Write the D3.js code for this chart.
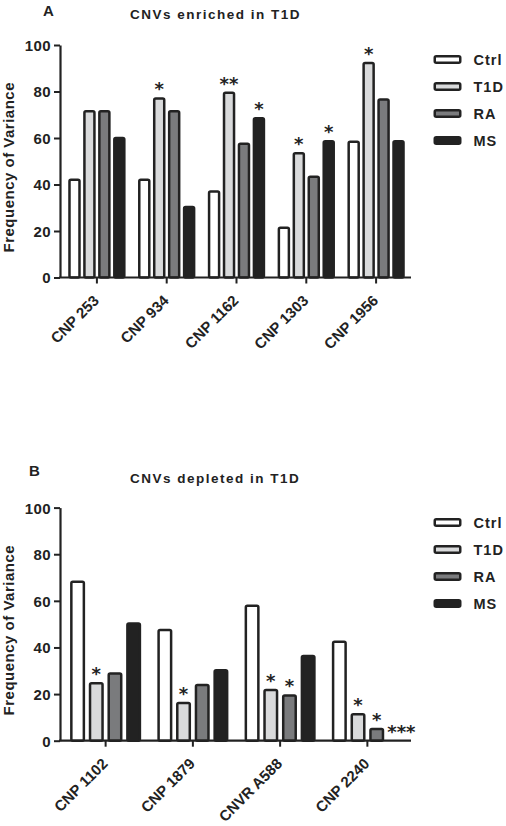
<!DOCTYPE html>
<html>
<head>
<meta charset="utf-8">
<script src="https://cdn.jsdelivr.net/npm/d3@7"></script>
<style>
  html, body { margin: 0; padding: 0; background: #fff; }
  svg { display: block; }
  text { font-family: "Liberation Sans", Arial, sans-serif; fill: #222; }
</style>
</head>
<body>
<svg id="chart" width="506" height="826"></svg>
<script>
// ---------- data ----------
const series = ["Ctrl", "T1D", "RA", "MS"];
const yTicks = [0, 20, 40, 60, 80, 100];

const categoriesA = ["CNP 253", "CNP 934", "CNP 1162", "CNP 1303", "CNP 1956"];
const ctrlA = [42, 42, 37, 21.4, 58.4];
const t1dA  = [71.5, 77, 79.5, 53.4, 92.3];
const raA   = [71.5, 71.5, 57.5, 43.3, 76.6];
const msA   = [60, 30.3, 68.5, 58.6, 58.6];
const sigA  = [["", "", "", ""], ["", "*", "", ""], ["", "**", "", "*"], ["", "*", "", "*"], ["", "*", "", ""]];

const categoriesB = ["CNP 1102", "CNP 1879", "CNVR A588", "CNP 2240"];
const ctrlB = [68.2, 47.5, 57.9, 42.4];
const t1dB  = [24.6, 16.2, 21.7, 11.3];
const raB   = [28.8, 23.9, 19.4, 5.0];
const msB   = [50.3, 30.2, 36.3, 0];
const sigB  = [["", "*", "", ""], ["", "*", "", ""], ["", "*", "*", ""], ["", "*", "*", "***"]];

const titleA = "CNVs enriched in T1D";
const titleB = "CNVs depleted in T1D";
const yLabel = "Frequency of Variance";

// ---------- style ----------
const fills = {Ctrl: "#ffffff", T1D: "#d9dadb", RA: "#7a7b7d", MS: "#222222"};
const ink = "#222222";

const svg = d3.select("#chart");

function panel(cfg) {
  const g = svg.append("g");
  const vals = [cfg.ctrl, cfg.t1d, cfg.ra, cfg.ms];
  const rows = cfg.categories.map((c, i) => ({
    cat: c,
    bars: series.map((s, j) => ({s, v: vals[j][i], sig: cfg.sig[i][j]}))
  }));

  const y = d3.scaleLinear().domain([0, 100]).range([cfg.y0, cfg.y1]);
  const x0 = d3.scaleBand().domain(cfg.categories).range([62, 411])
    .paddingInner(0.18).paddingOuter(0.09);
  const x1 = d3.scaleBand().domain(series).range([0, x0.bandwidth()])
    .paddingInner(0.33).paddingOuter(0.08);

  // bars
  const grp = g.selectAll("g.grp").data(rows).join("g")
    .attr("transform", d => `translate(${x0(d.cat)},0)`);
  grp.selectAll("rect").data(d => d.bars.filter(b => b.v > 0)).join("rect")
    .attr("x", b => x1(b.s))
    .attr("y", b => y(b.v))
    .attr("width", x1.bandwidth())
    .attr("height", b => y(0) - y(b.v))
    .attr("rx", 1.5)
    .attr("fill", b => fills[b.s])
    .attr("stroke", ink)
    .attr("stroke-width", 2.5);

  // significance
  grp.selectAll("text.sig").data(d => d.bars.filter(b => b.sig)).join("text")
    .attr("class", "sig")
    .attr("x", b => x1(b.s) + x1.bandwidth() / 2 + (b.sig.length > 2 ? 6 : 0))
    .attr("y", b => y(b.v) - 3)
    .attr("text-anchor", "middle")
    .style("font-family", "'DejaVu Sans', sans-serif")
    .style("font-size", "18px")
    .style("font-weight", "bold")
    .style("fill", ink)
    .text(b => b.sig);

  // y axis
  const ya = g.append("g").attr("transform", "translate(60,0)")
    .call(d3.axisLeft(y).tickValues(yTicks).tickSize(6).tickPadding(3).tickSizeOuter(0));
  ya.select(".domain").attr("stroke", ink).attr("stroke-width", 2.2);
  ya.selectAll(".tick line").attr("stroke", ink).attr("stroke-width", 2);
  ya.selectAll(".tick text")
    .style("font-family", "'Liberation Sans', Arial, sans-serif")
    .style("font-size", "15px").style("font-weight", "bold").style("fill", ink)
    .style("letter-spacing", "0.4px")
    .attr("dy", "0.36em");

  // x axis
  const xa = g.append("g").attr("transform", `translate(0,${y(0)})`)
    .call(d3.axisBottom(x0).tickSize(6).tickSizeOuter(0).tickPadding(0));
  xa.select(".domain").attr("d", `M59,0H411`).attr("stroke", ink).attr("stroke-width", 2.2);
  xa.selectAll(".tick line").attr("stroke", ink).attr("stroke-width", 2);
  xa.selectAll(".tick text")
    .style("font-family", "'Liberation Sans', Arial, sans-serif")
    .style("font-size", "15px").style("font-weight", "bold").style("fill", ink)
    .attr("text-anchor", "end")
    .attr("dy", 0)
    .attr("y", 0)
    .attr("transform", "translate(3,24) rotate(-45)");

  // y label
  g.append("text")
    .attr("transform", `translate(13.5,${(cfg.y0 + cfg.y1) / 2 + 6}) rotate(-90)`)
    .attr("text-anchor", "middle")
    .style("font-size", "15px").style("font-weight", "bold")
    .style("letter-spacing", "0.5px")
    .text(yLabel);

  // title & panel letter
  g.append("text").attr("x", 130).attr("y", cfg.titleY)
    .style("font-size", "13.5px").style("font-weight", "bold")
    .style("letter-spacing", "1.5px")
    .text(cfg.title);
  g.append("text").attr("x", cfg.letterX).attr("y", cfg.letterY)
    .style("font-size", "15px").style("font-weight", "bold")
    .text(cfg.letter);

  // legend
  const leg = g.selectAll("g.leg").data(series).join("g")
    .attr("transform", (d, i) => `translate(0,${cfg.legY + i * 27})`);
  leg.append("rect")
    .attr("x", 434.75).attr("y", -3.25).attr("width", 25.5).attr("height", 6.5)
    .attr("rx", 1.5)
    .attr("fill", d => fills[d]).attr("stroke", ink).attr("stroke-width", 2.5);
  leg.append("text").attr("x", 473.5).attr("y", 5.2)
    .style("font-size", "14.5px").style("font-weight", "bold")
    .style("letter-spacing", "1px")
    .text(d => d);
}

panel({categories: categoriesA, ctrl: ctrlA, t1d: t1dA, ra: raA, ms: msA, sig: sigA,
       y0: 277.5, y1: 45, title: titleA, titleY: 19, letter: "A", letterX: 43, letterY: 16, legY: 59.5});
panel({categories: categoriesB, ctrl: ctrlB, t1d: t1dB, ra: raB, ms: msB, sig: sigB,
       y0: 740.7, y1: 507.6, title: titleB, titleY: 483, letter: "B", letterX: 29, letterY: 476, legY: 522.5});
</script>
</body>
</html>
